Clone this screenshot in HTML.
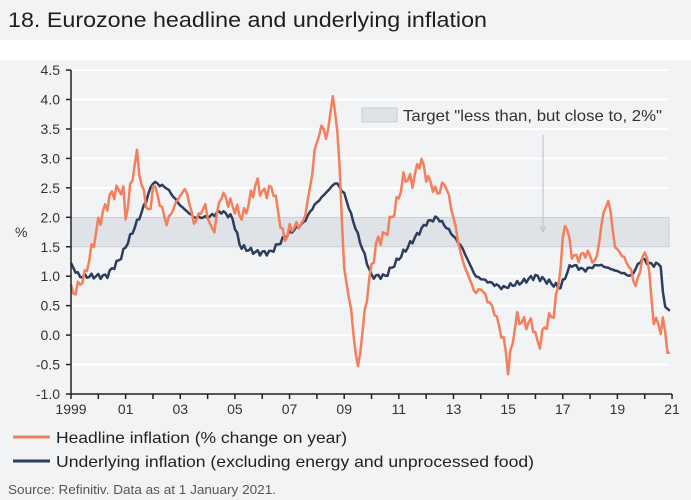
<!DOCTYPE html>
<html><head><meta charset="utf-8"><style>
html,body{margin:0;padding:0;background:#f2f3f5;}
svg{display:block;font-family:"Liberation Sans",sans-serif;}
</style></head><body>
<svg width="691" height="500" xmlns="http://www.w3.org/2000/svg">
<rect x="0" y="0" width="691" height="40" fill="#f2f3f5"/>
<rect x="0" y="40" width="691" height="20" fill="#ffffff"/>
<rect x="0" y="60" width="691" height="440" fill="#f2f3f5"/>
<text x="8" y="27" font-size="21" fill="#1e1e1e" textLength="479" lengthAdjust="spacingAndGlyphs">18. Eurozone headline and underlying inflation</text>
<g id="grid" stroke="#ffffff" stroke-width="2"></g>
<rect x="71" y="217.3" width="598" height="29.5" fill="#dfe3e7" stroke="#c9ced4" stroke-width="1"/>
<rect x="362" y="108" width="35" height="14" fill="#dfe3e7" stroke="#c9ced4" stroke-width="1"/>
<text x="403" y="121" font-size="16" fill="#333" textLength="259" lengthAdjust="spacingAndGlyphs">Target "less than, but close to, 2%"</text>
<line x1="543" y1="135" x2="543" y2="230" stroke="#b8bec6" stroke-width="1"/>
<path d="M540,226 L543,232 L546,226" fill="none" stroke="#b8bec6" stroke-width="1"/>
<g id="ylab" font-size="14" fill="#333" text-anchor="end"></g>
<text x="15" y="237" font-size="14" fill="#333">%</text>
<polyline id="und" fill="none" stroke="#2c3e5c" stroke-width="2.5" stroke-linejoin="round"/>
<polyline id="head" fill="none" stroke="#f47f5c" stroke-width="2.5" stroke-linejoin="round"/>
<g id="axes" stroke="#222" stroke-width="1.5"></g>
<g id="xlab" font-size="14" fill="#333" text-anchor="middle"></g>
<line x1="13" y1="437" x2="50" y2="437" stroke="#f47f5c" stroke-width="3"/>
<text x="56" y="443" font-size="16" fill="#222" textLength="291" lengthAdjust="spacingAndGlyphs">Headline inflation (% change on year)</text>
<line x1="13" y1="461" x2="50" y2="461" stroke="#2c3e5c" stroke-width="3"/>
<text x="56" y="467" font-size="16" fill="#222" textLength="478" lengthAdjust="spacingAndGlyphs">Underlying inflation (excluding energy and unprocessed food)</text>
<text x="8" y="494" font-size="13" fill="#555" textLength="268" lengthAdjust="spacingAndGlyphs">Source: Refinitiv. Data as at 1 January 2021.</text>
</svg>
<script>
var X=function(t){return 71+(t-1999)*27.32};
var Y=function(v){return 394-(v+1)*58.9};
var ns="http://www.w3.org/2000/svg";
function el(p,n,a,txt){var e=document.createElementNS(ns,n);for(var k in a)e.setAttribute(k,a[k]);if(txt)e.textContent=txt;document.getElementById(p).appendChild(e);}
for(var v=-0.5;v<=4.51;v+=0.5){el("grid","line",{x1:71,x2:669,y1:Y(v),y2:Y(v)});}
for(var v=-1;v<=4.51;v+=0.5){el("ylab","text",{x:60,y:Y(v)+5},v.toFixed(1));el("axes","line",{x1:66,x2:71,y1:Y(v),y2:Y(v)});}
el("axes","line",{x1:71,x2:71,y1:Y(4.5),y2:Y(-1)});
el("axes","line",{x1:71,x2:672,y1:Y(-1),y2:Y(-1)});
for(var y=1999;y<=2021;y++){el("axes","line",{x1:X(y),x2:X(y),y1:Y(-1),y2:Y(-1)+5});if((y-1999)%2==0)el("xlab","text",{x:X(y),y:414},y==1999?"1999":String(y%100).padStart(2,"0"));}
var H=[[1999,0.8],[1999.08,0.7],[1999.5,1.0],[1999.9,1.7],[2000.0,1.9],[2000.5,2.4],[2000.9,2.5],[2001.0,2.0],[2001.4,3.1],[2001.6,2.5],[2001.9,2.0],[2002.0,2.6],[2002.5,1.9],[2002.9,2.3],[2003.2,2.5],[2003.5,1.9],[2003.9,2.2],[2004.2,1.7],[2004.5,2.4],[2004.9,2.2],[2005.3,2.0],[2005.8,2.6],[2006.0,2.4],[2006.4,2.5],[2006.8,1.6],[2007.0,1.8],[2007.5,1.9],[2007.8,2.6],[2007.9,3.1],[2008.2,3.6],[2008.35,3.3],[2008.6,4.1],[2008.8,3.2],[2009.0,1.1],[2009.2,0.6],[2009.5,-0.6],[2009.6,-0.2],[2009.9,0.9],[2010.2,1.6],[2010.5,1.7],[2010.9,2.2],[2011.2,2.7],[2011.5,2.6],[2011.8,3.0],[2012.0,2.7],[2012.4,2.4],[2012.7,2.6],[2013.0,2.0],[2013.3,1.3],[2013.8,0.7],[2014.0,0.8],[2014.5,0.4],[2014.9,-0.2],[2015.0,-0.6],[2015.3,0.3],[2015.6,0.2],[2015.9,0.2],[2016.1,-0.2],[2016.4,0.2],[2016.7,0.4],[2016.9,1.1],[2017.1,2.0],[2017.3,1.4],[2017.5,1.3],[2017.9,1.4],[2018.2,1.2],[2018.5,2.1],[2018.7,2.3],[2018.9,1.5],[2019.1,1.4],[2019.4,1.2],[2019.7,0.8],[2019.9,1.3],[2020.1,1.4],[2020.3,0.3],[2020.6,0.1],[2020.7,0.4],[2020.8,-0.3],[2020.95,-0.3]];
var U=[[1999,1.2],[1999.3,1.0],[1999.9,1.0],[2000.3,1.0],[2000.8,1.3],[2001.2,1.7],[2001.6,2.1],[2002.0,2.6],[2002.5,2.5],[2003.0,2.2],[2003.5,2.0],[2004.0,2.0],[2004.5,2.1],[2004.9,2.0],[2005.2,1.5],[2005.8,1.4],[2006.3,1.4],[2006.9,1.7],[2007.5,1.9],[2007.9,2.2],[2008.3,2.4],[2008.7,2.6],[2009.0,2.4],[2009.5,1.7],[2010.0,1.0],[2010.5,1.0],[2011.0,1.3],[2011.5,1.6],[2012.0,1.9],[2012.4,2.0],[2012.8,1.8],[2013.3,1.5],[2013.8,1.0],[2014.3,0.9],[2014.8,0.8],[2015.5,0.9],[2016.0,1.0],[2016.5,0.9],[2016.9,0.8],[2017.3,1.2],[2017.8,1.1],[2018.3,1.2],[2018.9,1.1],[2019.5,1.0],[2019.9,1.3],[2020.2,1.2],[2020.6,1.2],[2020.7,0.5],[2020.95,0.4]];
function interp(D,amp){var out=[];for(var t=1999;t<=2020.96;t+=1/12){var i=0;while(i<D.length-2&&D[i+1][0]<t)i++;var a=D[i],b=D[i+1];var f=Math.min(1,Math.max(0,(t-a[0])/(b[0]-a[0])));var k=t>2020.6?0:amp;var v=a[1]+(b[1]-a[1])*f+k*Math.sin(t*37.1)*Math.cos(t*11.3);out.push(X(t).toFixed(1)+","+Y(v).toFixed(1));}return out.join(" ");}
document.getElementById("head").setAttribute("points",interp(H,0.12));
document.getElementById("und").setAttribute("points",interp(U,0.05));
</script>
</body></html>
